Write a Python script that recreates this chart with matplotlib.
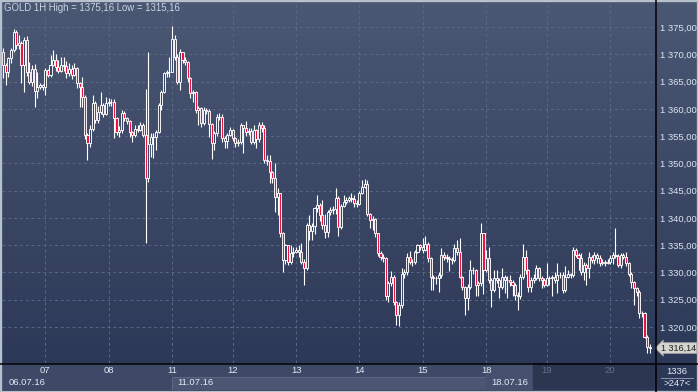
import matplotlib
matplotlib.use('Agg')
import matplotlib.pyplot as plt
import numpy as np
from matplotlib.colors import LinearSegmentedColormap
from matplotlib.lines import Line2D
from matplotlib.patches import Rectangle
from matplotlib.ticker import FuncFormatter
import matplotlib.transforms as mtransforms

plt.rcParams.update({'font.family': ['Liberation Sans', 'DejaVu Sans'], 'font.size': 7})

# hourly GOLD candles, 06.07.16 - 20.07.16
first_open = 1370.4
closes = [
    1368.0, 1366.8, 1369.3, 1370.8, 1374.1, 1371.7, 1372.0, 1368.0, 1372.6, 1366.8,
    1365.0, 1367.4, 1363.3, 1364.1, 1364.3, 1364.0, 1367.1, 1366.2, 1368.0, 1369.0,
    1367.7, 1367.0, 1368.0, 1367.8, 1366.5, 1367.4, 1366.2, 1367.5, 1364.7, 1364.1,
    1362.2, 1355.2, 1353.7, 1356.4, 1361.0, 1358.0, 1359.5, 1360.7, 1359.0, 1361.0,
    1361.3, 1361.2, 1358.3, 1355.8, 1356.1, 1359.2, 1358.3, 1357.8, 1355.8, 1355.2,
    1356.4, 1356.2, 1357.0, 1355.2, 1347.3, 1353.5,
    1354.9, 1354.9, 1355.8, 1360.7, 1363.1, 1366.5, 1366.8, 1366.75, 1372.9, 1369.6,
    1365.0, 1370.5, 1369.0, 1368.6, 1365.6, 1362.9, 1363.1, 1359.8, 1360.1, 1357.4,
    1359.8, 1359.6, 1357.3, 1353.7, 1355.5, 1358.6, 1358.6,
    1354.6, 1354.2, 1355.2, 1356.1, 1354.6, 1353.7, 1353.9, 1357.0, 1356.5, 1355.8,
    1356.0, 1354.0, 1356.1, 1354.5, 1357.0, 1356.5, 1350.6, 1350.4, 1348.5, 1347.3,
    1343.9, 1344.5, 1337.2, 1332.3, 1335.0, 1332.0, 1333.5, 1333.7, 1334.2, 1333.8,
    1332.0, 1330.8, 1338.7, 1337.6, 1338.5, 1341.8, 1342.4, 1340.5,
    1338.7, 1337.5, 1341.1, 1341.4, 1341.6, 1343.6, 1338.4, 1342.1, 1343.0, 1343.3,
    1343.6, 1343.5, 1342.7, 1342.6, 1344.5, 1345.7, 1346.3, 1340.8, 1339.6, 1339.8,
    1337.2, 1333.5, 1332.9, 1332.6, 1325.6, 1328.0, 1329.2, 1324.6, 1322.2, 1324.0,
    1329.8, 1330.0, 1332.9, 1332.0, 1332.0, 1333.8, 1335.0, 1334.7, 1334.1, 1335.3,
    1332.6, 1329.2, 1329.0, 1328.9, 1329.5, 1333.2, 1332.8, 1332.6, 1332.4, 1332.2,
    1334.4, 1333.8, 1329.2, 1327.4, 1325.3, 1327.4, 1330.5, 1330.4, 1327.7, 1328.0,
    1337.2, 1330.5,
    1332.6, 1328.6, 1326.8, 1328.9, 1328.6, 1327.4, 1329.2, 1328.6, 1328.6, 1328.3,
    1327.7, 1325.9, 1325.6, 1329.2, 1332.9, 1330.4, 1327.4, 1328.6, 1328.9, 1330.8,
    1328.9, 1328.6, 1327.7, 1328.9, 1328.9, 1329.2, 1328.6, 1329.5, 1329.5, 1326.8,
    1329.2, 1329.8, 1329.5, 1334.1, 1333.2, 1332.6, 1330.1, 1331.4, 1330.8, 1332.9,
    1332.3, 1333.2, 1332.6, 1331.7, 1331.9, 1331.8, 1332.0, 1332.6, 1333.2, 1333.0,
    1331.4, 1333.2, 1332.9, 1331.7, 1329.8, 1328.3, 1327.1, 1326.5, 1322.5, 1322.5,
    1318.2, 1316.4, 1316.14,
]
highs = [
    1371.1, 1368.5, 1369.6, 1371.1, 1374.6, 1374.4, 1373.5, 1372.5, 1373.2, 1373.3,
    1368.6, 1368.0, 1368.2, 1366.8, 1364.7, 1364.5, 1367.5, 1367.4, 1369.9, 1370.8,
    1370.0, 1369.0, 1369.5, 1369.5, 1368.8, 1368.5, 1368.0, 1368.4, 1367.6, 1365.0,
    1365.9, 1362.6, 1355.5, 1357.0, 1362.5, 1361.5, 1360.5, 1363.1, 1361.0, 1362.2,
    1362.0, 1361.8, 1361.8, 1358.5, 1356.8, 1359.8, 1359.6, 1358.5, 1358.0, 1356.0,
    1357.0, 1357.0, 1357.6, 1357.5, 1363.6, 1370.4,
    1355.5, 1355.5, 1356.1, 1361.0, 1363.5, 1366.8, 1367.1, 1369.6, 1375.16, 1373.5,
    1370.0, 1371.0, 1370.5, 1369.5, 1368.8, 1365.8, 1363.5, 1363.3, 1360.5, 1360.3,
    1360.3, 1360.2, 1360.0, 1357.5, 1356.0, 1359.0, 1359.3,
    1359.0, 1355.0, 1355.5, 1356.7, 1356.3, 1354.8, 1354.5, 1357.4, 1357.0, 1357.8,
    1356.5, 1356.5, 1357.0, 1356.3, 1357.6, 1357.6, 1357.0, 1351.5, 1351.5, 1348.6,
    1350.0, 1345.5, 1344.5, 1337.5, 1335.3, 1335.0, 1335.0, 1334.7, 1334.6, 1335.0,
    1335.4, 1332.5, 1339.0, 1340.5, 1339.0, 1342.0, 1344.2, 1342.7,
    1343.3, 1340.8, 1341.5, 1342.0, 1342.2, 1345.4, 1344.0, 1342.5, 1344.2, 1343.8,
    1344.0, 1344.5, 1344.2, 1343.2, 1345.0, 1346.9, 1347.1, 1346.9, 1340.9, 1340.3,
    1339.9, 1337.3, 1334.0, 1333.3, 1332.8, 1328.5, 1330.2, 1329.6, 1324.8, 1324.5,
    1330.8, 1330.6, 1333.5, 1334.0, 1332.5, 1334.2, 1335.3, 1335.3, 1336.3, 1336.6,
    1335.6, 1332.8, 1329.6, 1329.4, 1330.0, 1334.4, 1333.8, 1333.3, 1333.0, 1332.8,
    1335.3, 1336.0, 1336.3, 1329.4, 1327.6, 1327.8, 1332.3, 1331.0, 1330.6, 1328.5,
    1339.0, 1335.3,
    1334.1, 1334.7, 1329.0, 1330.4, 1330.4, 1328.9, 1330.8, 1329.5, 1329.3, 1329.5,
    1328.6, 1328.0, 1326.5, 1329.8, 1335.3, 1334.1, 1330.6, 1329.2, 1329.8, 1331.4,
    1331.0, 1329.3, 1328.9, 1331.7, 1329.4, 1329.6, 1330.1, 1331.7, 1330.0, 1330.1,
    1331.1, 1330.5, 1329.9, 1334.7, 1334.4, 1333.5, 1333.5, 1331.9, 1331.8, 1333.8,
    1333.2, 1333.8, 1333.5, 1333.2, 1332.4, 1332.3, 1332.4, 1333.2, 1333.8, 1338.1,
    1333.4, 1333.6, 1333.5, 1333.8, 1332.0, 1330.0, 1328.5, 1327.4, 1326.7, 1323.0,
    1322.8, 1318.5, 1316.9,
]
lows = [
    1365.6, 1364.4, 1365.9, 1368.5, 1370.5, 1371.0, 1371.0, 1364.7, 1363.1, 1366.0,
    1364.5, 1364.2, 1360.4, 1362.0, 1363.7, 1363.5, 1362.5, 1365.8, 1365.8, 1367.8,
    1367.0, 1366.5, 1366.8, 1367.0, 1365.6, 1366.0, 1365.5, 1366.0, 1363.8, 1360.4,
    1360.4, 1354.5, 1350.6, 1353.1, 1356.0, 1357.5, 1357.5, 1359.0, 1358.5, 1358.8,
    1360.5, 1360.6, 1354.6, 1355.3, 1354.9, 1355.5, 1357.7, 1357.2, 1354.9, 1354.0,
    1354.8, 1355.8, 1355.9, 1354.8, 1335.4, 1346.6,
    1351.2, 1351.0, 1352.5, 1355.5, 1359.8, 1363.0, 1365.8, 1365.8, 1369.3, 1369.0,
    1364.5, 1363.45, 1368.5, 1368.0, 1365.0, 1362.0, 1361.3, 1359.3, 1357.0, 1356.7,
    1357.0, 1359.0, 1354.9, 1350.9, 1352.45, 1355.0, 1358.0,
    1354.0, 1352.8, 1352.8, 1355.0, 1354.2, 1353.0, 1353.2, 1353.5, 1351.9, 1355.0,
    1355.3, 1353.5, 1353.5, 1352.8, 1354.0, 1355.8, 1350.1, 1349.8, 1346.4, 1346.5,
    1341.1, 1340.5, 1336.5, 1330.1, 1331.6, 1331.3, 1331.5, 1332.8, 1333.5, 1332.8,
    1331.5, 1327.7, 1330.5, 1336.0, 1336.0, 1337.0, 1341.0, 1339.5,
    1338.0, 1336.3, 1336.5, 1340.5, 1340.8, 1340.8, 1336.6, 1338.0, 1342.0, 1342.6,
    1343.0, 1342.9, 1342.0, 1342.0, 1342.3, 1344.3, 1345.5, 1340.3, 1338.1, 1337.8,
    1336.5, 1333.0, 1332.3, 1332.0, 1325.0, 1324.6, 1327.5, 1324.0, 1320.4, 1320.1,
    1323.5, 1329.0, 1329.5, 1331.5, 1331.1, 1331.5, 1333.5, 1334.2, 1333.6, 1334.0,
    1332.0, 1326.8, 1326.8, 1327.8, 1326.5, 1329.0, 1332.2, 1332.0, 1330.2, 1331.6,
    1332.0, 1333.2, 1329.0, 1326.8, 1322.2, 1323.1, 1327.0, 1329.8, 1325.6, 1325.6,
    1327.5, 1326.0,
    1330.0, 1328.0, 1323.7, 1326.5, 1328.0, 1325.3, 1327.0, 1326.2, 1325.3, 1327.6,
    1325.6, 1325.0, 1323.1, 1325.2, 1328.8, 1329.8, 1326.5, 1326.5, 1328.0, 1328.6,
    1328.4, 1327.1, 1327.4, 1327.5, 1327.7, 1325.6, 1328.0, 1326.2, 1328.9, 1326.3,
    1326.5, 1329.0, 1329.0, 1329.2, 1332.8, 1330.4, 1329.6, 1328.6, 1327.7, 1328.9,
    1331.8, 1331.5, 1331.7, 1331.2, 1331.3, 1331.2, 1331.5, 1331.5, 1331.6, 1332.6,
    1331.0, 1330.9, 1332.4, 1331.2, 1329.3, 1327.1, 1324.0, 1325.6, 1321.6, 1321.8,
    1317.9, 1315.2, 1315.16,
]
assert len(closes) == len(highs) == len(lows)

day_labels = ['07', '08', '11', '12', '13', '14', '15', '18', '19', '20']
day_start = [16, 40, 64, 87, 111, 135, 159, 183, 206, 230]
week_labels = ['06.07.16', '11.07.16', '18.07.16']
week_start = [0, 64, 183]
price_ticks = [1320, 1325, 1330, 1335, 1340, 1345, 1350, 1355, 1360, 1365, 1370, 1375]

opens = np.array([first_open] + closes[:-1])
closes = np.array(closes)
highs = np.maximum(np.array(highs), np.maximum(opens, closes))
lows = np.minimum(np.array(lows), np.minimum(opens, closes))
idx = np.arange(len(closes))

W, H = 698, 392
fig = plt.figure(figsize=(W / 100, H / 100), dpi=100)

# gradient background
bg = fig.add_axes([0, 0, 1, 1])
cmap = LinearSegmentedColormap.from_list('bg', ['#4b5874', '#2a3655'])
bg.imshow(np.linspace(0, 1, 256).reshape(-1, 1), cmap=cmap, aspect='auto', extent=[0, 1, 0, 1])
bg.axis('off')

xl = (-0.38, 246.97)
ax = fig.add_axes([2 / W, 29 / H, 653 / W, 361 / H])
ax.patch.set_alpha(0)
ax.set_xlim(*xl)
ax.set_ylim(1313.4, 1379.6)
for s in ax.spines.values():
    s.set_visible(False)

ax.set_xticks(day_start)
ax.set_yticks(price_ticks)
ax.grid(True, color='#5a6884', linestyle=(0, (3, 3)), linewidth=0.7)
ax.tick_params(axis='x', length=0, labelbottom=False)
ax.yaxis.tick_right()
ax.tick_params(axis='y', length=0, pad=3.5, labelcolor='#dbe5f3', labelsize=6.8)
ax.yaxis.set_major_formatter(FuncFormatter(lambda v, p: f"{int(v) // 1000} {int(v) % 1000:03d},00"))

# candles
up = closes >= opens
body_lo = np.minimum(opens, closes)
body_hi = np.maximum(opens, closes)
ax.vlines(idx, lows, body_lo, color='white', linewidth=0.8, zorder=3)
ax.vlines(idx, body_hi, highs, color='white', linewidth=0.8, zorder=3)
ax.bar(idx, body_hi - body_lo, bottom=body_lo, width=0.8,
       color=np.where(up, '#3a4764', '#e8163f'), edgecolor='white', linewidth=0.65, zorder=4)

# last price marker
tr = mtransforms.blended_transform_factory(ax.transAxes, ax.transData)
ax.text(1.009, closes[-1], '1 316,14', transform=tr, ha='left', va='center', fontsize=6.5,
        color='#1c1c1c', clip_on=False, zorder=6,
        bbox=dict(boxstyle='larrow,pad=0.1', fc='#d5d5cf', ec='#9c9c9c', lw=0.6))

# bottom time panel
bot = fig.add_axes([2 / W, 2 / H, 653 / W, 27 / H])
bot.set_xlim(*xl)
bot.set_ylim(0, 1)
bot.axis('off')
bot.axvspan(xl[0], xl[1], color='#3d4966', zorder=0)
bot.axvspan(week_start[1], week_start[2], ymin=0, ymax=0.5, facecolor='#4a5672',
            edgecolor='#5c6883', linewidth=0.8, zorder=1)
bot.axvspan(week_start[2], 200.8, color='#45516e', zorder=1)
bot.axvspan(200.8, xl[1], color='#2b3651', zorder=1)
for lab, pos in zip(day_labels, day_start):
    col = '#66728d' if lab in ('19', '20') else '#e2eaf5'
    bot.text(pos, 0.72, lab, ha='center', va='center', fontsize=6.8, color=col, zorder=3)
for lab, pos in zip(week_labels, week_start):
    bot.text(pos + 2, 0.26, lab, ha='left', va='center', fontsize=6.8, color='#e2eaf5', zorder=3)

# title and corner info
fig.text(4 / W, 1 - 8 / H, 'GOLD 1H High = 1375,16 Low = 1315,16', ha='left', va='center',
         fontsize=6.9, color='#cad4e3')
fig.text(677 / W, 1 - 371 / H, '1336', ha='center', va='center', fontsize=6.8, color='#e2eaf5')
fig.text(677 / W, 1 - 384 / H, '>247<', ha='center', va='center', fontsize=6.8, color='#e2eaf5')
fig.add_artist(Line2D([661 / W, 693 / W], [1 - 377.5 / H] * 2, color='#8a96ad', lw=0.7))

# separators and frame
fig.add_artist(Line2D([655.5 / W] * 2, [0, 1], color='black', lw=1.1))
fig.add_artist(Line2D([0, 1], [1 - 363.5 / H] * 2, color='black', lw=1.1))
fig.add_artist(Rectangle((0, 0), 1, 1, transform=fig.transFigure, fill=False,
                         edgecolor='#b7c1cd', lw=2.4))

fig.savefig('out.png', dpi=100)
